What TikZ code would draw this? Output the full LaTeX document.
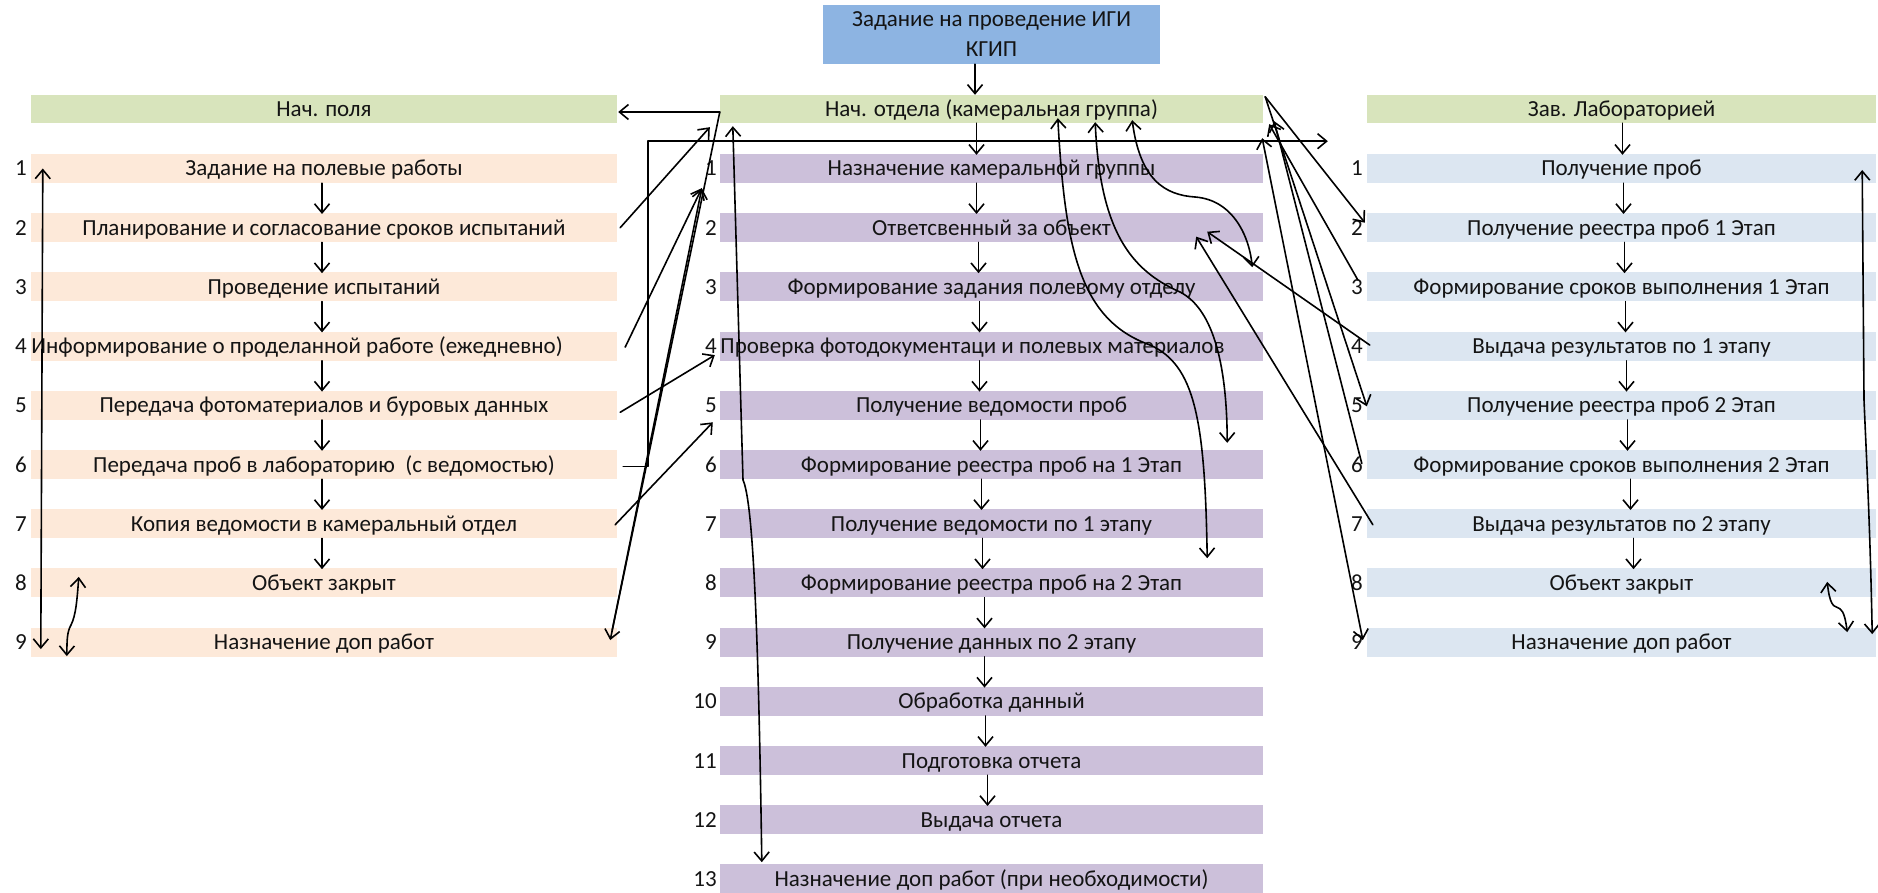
\documentclass[tikz,border=0pt]{standalone}
\usepackage{fontspec}
\setmainfont{Carlito}
\usetikzlibrary{arrows.meta,calc}
\definecolor{hdr}{HTML}{D8E4BC}
\definecolor{peach}{HTML}{FDE9D9}
\definecolor{lilac}{HTML}{CCC0DA}
\definecolor{lblue}{HTML}{DCE6F1}
\definecolor{topblue}{HTML}{8DB4E2}
\definecolor{txt}{HTML}{141414}
\begin{document}
\begin{tikzpicture}[x=1pt,y=-1pt,
  lab/.style={text=txt, font=\fontsize{23}{26}\selectfont, text height=20pt, text depth=5pt, inner sep=0pt},
  bar/.style={lab, rectangle, minimum height=29pt},
  lbar/.style={bar, fill=peach, minimum width=586pt},
  cbar/.style={bar, fill=lilac, minimum width=543pt},
  rbar/.style={bar, fill=lblue, minimum width=509pt},
  hbar/.style={bar, fill=hdr, minimum height=28pt},
  num/.style={lab},
  conn/.style={draw=black, line width=1.6pt, line cap=round, line join=round},
  tip/.tip={Straight Barb[length=9pt,width=15pt]},
  arr/.style={conn, -tip},
  darr/.style={conn, tip-tip},
]
\useasboundingbox (0,0) rectangle (1878,893);

% ---------- top box
\node[lab, fill=topblue, minimum width=337pt, minimum height=59pt, align=center, text height=, text depth=] (task) at (991.5,34.5) {Задание на проведение ИГИ\\[4pt]КГИП};

% ---------- headers
\node[hbar, minimum width=586pt] (LH) at (324,109) {Нач. поля};
\node[hbar, minimum width=543pt] (CH) at (991.5,109) {Нач. отдела (камеральная группа)};
\node[hbar, minimum width=509pt] (RH) at (1621.5,109) {Зав. Лабораторией};

% ---------- left column
\node[lbar] (L1) at (324,168.5) {Задание на полевые работы};
\node[lbar] (L2) at (324,227.7) {Планирование и согласование сроков испытаний};
\node[lbar] (L3) at (324,286.9) {Проведение испытаний};
\node[lbar] (L4) at (324,346.1) {Информирование о проделанной работе (ежедневно)\hspace*{54pt}};
\node[lbar] (L5) at (324,405.3) {Передача фотоматериалов и буровых данных};
\node[lbar] (L6) at (324,464.5) {Передача проб в лабораторию\ \ (с ведомостью)};
\node[lbar] (L7) at (324,523.7) {Копия ведомости в камеральный отдел};
\node[lbar] (L8) at (324,582.9) {Объект закрыт};
\node[lbar] (L9) at (324,642.1) {Назначение доп работ};
\foreach \k/\y in {1/168.5,2/227.7,3/286.9,4/346.1,5/405.3,6/464.5,7/523.7,8/582.9,9/642.1}
  \node[num, anchor=west] (nL\k) at (15,\y) {\k};

% ---------- centre column
\node[cbar] (C1) at (991.5,168.5) {Назначение камеральной группы};
\node[cbar] (C2) at (991.5,227.7) {Ответсвенный за объект};
\node[cbar] (C3) at (991.5,286.9) {Формирование задания полевому отделу};
\node[cbar] (C4) at (991.5,346.1) {Проверка фотодокументаци и полевых материалов\hspace*{38pt}};
\node[cbar] (C5) at (991.5,405.3) {Получение ведомости проб};
\node[cbar] (C6) at (991.5,464.5) {Формирование реестра проб на 1 Этап};
\node[cbar] (C7) at (991.5,523.7) {Получение ведомости по 1 этапу};
\node[cbar] (C8) at (991.5,582.9) {Формирование реестра проб на 2 Этап};
\node[cbar] (C9) at (991.5,642.1) {Получение данных по 2 этапу};
\node[cbar] (C10) at (991.5,701.3) {Обработка данный};
\node[cbar] (C11) at (991.5,760.5) {Подготовка отчета};
\node[cbar] (C12) at (991.5,819.7) {Выдача отчета};
\node[cbar] (C13) at (991.5,878.9) {Назначение доп работ (при необходимости)};
\foreach \k/\y in {1/168.5,2/227.7,3/286.9,4/346.1,5/405.3,6/464.5,7/523.7,8/582.9,9/642.1,10/701.3,11/760.5,12/819.7,13/878.9}
  \node[num, anchor=east] (nC\k) at (717,\y) {\k};

% ---------- right column
\node[rbar] (R1) at (1621.5,168.5) {Получение проб};
\node[rbar] (R2) at (1621.5,227.7) {Получение реестра проб 1 Этап};
\node[rbar] (R3) at (1621.5,286.9) {Формирование сроков выполнения 1 Этап};
\node[rbar] (R4) at (1621.5,346.1) {Выдача результатов по 1 этапу};
\node[rbar] (R5) at (1621.5,405.3) {Получение реестра проб 2 Этап};
\node[rbar] (R6) at (1621.5,464.5) {Формирование сроков выполнения 2 Этап};
\node[rbar] (R7) at (1621.5,523.7) {Выдача результатов по 2 этапу};
\node[rbar] (R8) at (1621.5,582.9) {Объект закрыт};
\node[rbar] (R9) at (1621.5,642.1) {Назначение доп работ};
\foreach \k/\y in {1/168.5,2/227.7,3/286.9,4/346.1,5/405.3,6/464.5,7/523.7,8/582.9,9/642.1}
  \node[num] (nR\k) at (1357,\y) {\k};

% ---------- chain arrows
\draw[arr] ($(task.south)+(-16.5,0)$) -- ($(CH.north)+(-16.5,0)$);
\foreach \a/\b in {L1/L2,L2/L3,L3/L4,L4/L5,L5/L6,L6/L7,L7/L8}
  \draw[arr] ($(\a.south)+(-2,0)$) -- ($(\b.north)+(-2,1)$);
\foreach \a/\b/\s in {CH/C1/-15,C1/C2/-15,C2/C3/-13,C3/C4/-12,C4/C5/-12,C5/C6/-11,C6/C7/-10,C7/C8/-9,C8/C9/-7,C9/C10/-7,C10/C11/-6,C11/C12/-4}
  \draw[arr] ($(\a.south)+(\s,0)$) -- ($(\b.north)+(\s,1)$);
\foreach \a/\b/\s in {RH/R1/1,R1/R2/2,R2/R3/3,R3/R4/4,R4/R5/5,R5/R6/6,R6/R7/9,R7/R8/12}
  \draw[arr] ($(\a.south)+(\s,0)$) -- ($(\b.north)+(\s,1)$);

% ---------- named free ends
\coordinate (cw)   at ($(CH.west)+(0,3)$);
\coordinate (p1)   at ($(C1.south west)+(-18,5)$);
\coordinate (labin) at ($(RH.south west)+(-39,18)$);
\coordinate (apex) at ($(CH.north east)+(2,2)$);

% ---------- left <-> centre
\draw[arr] (cw) -- ($(LH.east)+(1,3)$);
\draw[arr] (cw) -- ($(L9.east)+(-7,-2)$);
\draw[arr] ($(L9.east)+(-5,-12)$) -- (p1);
\draw[arr] ($(L4.east)+(8,1)$) -- (p1);
\draw[arr] ($(L2.east)+(3,0)$) -- ($(CH.south west)+(-10,4)$);
\draw[arr] ($(L5.east)+(3,7)$) -- ($(C4.west)+(-5,9)$);
\draw[arr] ($(L7.east)+(-2,1)$) -- ($(C5.west)+(-7,17)$);
\draw[arr] ($(L6.east)+(6,2)$) -- ++(25,0) |- (labin);

% ---------- long curve centre header <-> C13
\draw[darr] ($(CH.south west)+(13,3)$) -- (743,480) .. controls (752,500) and (758,600) .. ($(C13.north west)+(42,-2)$);

% ---------- curves inside centre column
\draw[darr] ($(CH.south west)+(338,-5)$) .. controls (1065,250) and (1080,320) .. (1150,345) .. controls (1195,365) and (1205,420) .. ($(C8.north east)+(-56,-10)$);
\draw[darr] ($(CH.south east)+(-168,-1)$) .. controls (1100,230) and (1130,270) .. (1180,292) .. controls (1215,310) and (1227,370) .. ($(C6.north east)+(-36,-7)$);
\draw[darr] ($(CH.south east)+(-131,-3)$) .. controls (1140,180) and (1165,195) .. (1195,197) .. controls (1235,200) and (1250,240) .. ($(C3.north east)+(-11,-5)$);

% ---------- right <-> centre
\draw[arr] ($(R4.west)+(3,-1)$) -- ($(C2.east)+(-56,4)$);
\draw[arr] ($(R7.west)+(6,1)$) -- ($(C2.east)+(-67,9)$);
\draw[arr] (apex) -- ($(R2.west)+(-2,-5)$);
\draw[arr] (apex) -- ($(R5.west)+(0,1)$);
\draw[arr] ($(R3.west)+(-9,-7)$) -- ($(CH.south east)+(6,1)$);
\draw[arr] ($(R6.west)+(-5,-1)$) -- ($(CH.south east)+(11,-2)$);
\draw[darr] ($(R9.west)+(-4,-2)$) -- ($(CH.south east)+(-1,15)$);

% ---------- side loops
\draw[darr] ($(L1.west)+(12,0)$) -- ($(L9.west)+(10,7)$);
\draw[darr] ($(L8.west)+(48,-6)$) .. controls (77,600) and (76,615) .. (71,625) .. controls (67,632) and (67,640) .. ($(L9.west)+(36,14)$);
\draw[darr] ($(R1.east)+(-14,1.5)$) -- (1864,400) .. controls (1866,450) and (1870,520) .. ($(R9.east)+(-4,-8)$);
\draw[darr] ($(R8.east)+(-49,-1)$) .. controls (1832,625) and (1842,590) .. ($(R9.east)+(-29,-10)$);
\end{tikzpicture}
\end{document}
